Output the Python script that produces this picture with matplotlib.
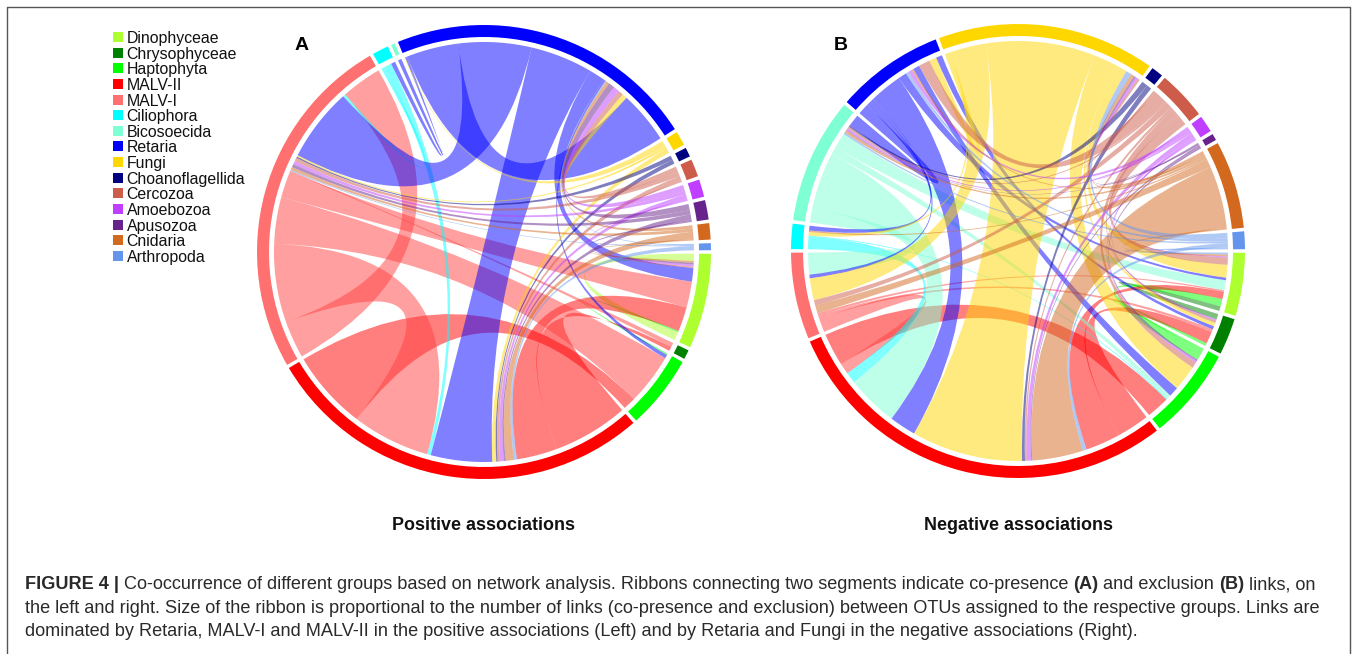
import numpy as np
import matplotlib
matplotlib.use('Agg')
import matplotlib.pyplot as plt
from matplotlib.patches import PathPatch, Wedge, Rectangle
from matplotlib.path import Path

W, H = 1357, 654
plt.rcParams['font.family'] = ['Liberation Sans', 'DejaVu Sans']

grupos = ['Dinophyceae', 'Chrysophyceae', 'Haptophyta', 'MALV-II', 'MALV-I', 'Ciliophora',
          'Bicosoecida', 'Retaria', 'Fungi', 'Choanoflagellida', 'Cercozoa', 'Amoebozoa',
          'Apusozoa', 'Cnidaria', 'Arthropoda']
colores = ['#ADFF2F', '#008000', '#00FF00', '#FF0000', '#FF7070', '#00FFFF', '#7FFFD4', '#0000FF',
           '#FFD700', '#000080', '#CD5C4A', '#BF3EFF', '#68228B', '#D2691E', '#6495ED']
colores_cinta = list(colores)
colores_cinta[4] = '#FF4040'  # las cintas de MALV-I se ven mas intensas que su arco
Di, Ch, Ha, M2, M1, Ci, Bi, Re, Fu, Co, Ce, Am, Ap, Cn, Ar = range(15)

# Panel A: (grupo vecino, valor), en sentido horario dentro de cada grupo
a_dino = [(Di, 2), (Cn, .5), (Ap, .5), (Am, .5), (Ce, .4), (Re, 3.8), (M1, 7.2), (M2, 6.8), (Ha, .4), (Di, 2.3)]
a_chry = [(M1, 1.2), (M2, 1.2)]
a_hapt = [(Di, .4), (Re, 1), (M1, 14.1), (M2, 3.5)]
a_malv2 = [(Ch, 21), (Di, 11.2), (Ar, .8), (Cn, 2.3), (Ap, .5), (Am, 1), (Ce, .7), (Co, .4), (Fu, 1.1),
           (Re, 17), (Ci, 1), (M1, 21.7), (Ha, 22)]
a_malv1 = [(M1, 10.4), (M2, 21.8), (Ha, 12.9), (Di, 7.3), (Ch, .3), (Ar, .3), (Cn, .8), (Ap, .9), (Am, .9),
           (Ce, 1), (Co, .4), (Fu, .4), (Re, 20.5), (Ci, .7), (M1, 11.3)]
a_cili = [(M1, .8), (M2, 2.2), (Re, 1.2)]
a_bico = [(Re, 1)]
a_reta = [(Fu, .2), (Bi, .3), (Ci, .3), (Re, 14.5), (M1, 20.2), (M2, 17.3), (Di, 4.5), (Ha, .5), (Ar, .3),
          (Cn, .9), (Ap, 1.7), (Am, 1.7), (Ce, 1.4), (Fu, 1.4), (Re, 14.5)]
a_fung = [(Re, 1.6), (Re, .2), (M1, .6), (M2, 1.3)]
a_choa = [(M1, 1.2), (M2, 1.2)]
a_cerc = [(Re, 1.5), (M1, 1.3), (M2, 1.4), (Di, .3)]
a_amoe = [(Re, 1.7), (M1, 1), (M2, 1.3), (Di, .5)]
a_apus = [(Re, 1.7), (M1, 1.2), (M2, 1.5), (Di, .6)]
a_cnid = [(Re, .9), (M1, .9), (M2, 2), (Di, .4)]
a_arth = [(Re, .3), (M1, .3), (M2, 1.2)]

# Panel B
b_dino = [(Ar, .5), (Cn, .5), (Am, .3), (Ce, 2), (Fu, 3.5), (Re, .7), (Bi, 2.8), (M1, .4), (M2, 2), (Ha, 2), (Ch, 1.3)]
b_chry = [(Di, 1.5), (Am, .4), (Ce, .6), (Fu, 1), (Re, .9), (M1, .8), (M2, 3.3), (Ha, .8)]
b_hapt = [(Ch, .6), (Di, 2.8), (Ap, .4), (Am, .5), (Ce, 1.6), (Fu, 7), (Re, 2.7), (Bi, 1.2), (Ci, .3), (M2, 6.3)]
b_malv2 = [(Ch, 9), (Di, 9.5), (Ar, 1), (Cn, 14), (Ap, .3), (Am, 1.2), (Ce, .5), (Co, .8), (Fu, 30.5),
           (Re, 7.3), (Bi, 14.2), (Ci, 3), (M1, 3), (Ha, 9)]
b_malv1 = [(M2, 3.8), (Ch, .8), (Di, .7), (Cn, 2.2), (Ce, 1.5), (Fu, 6), (Re, 1), (Bi, 6)]
b_cili = [(M2, 3.4), (Ha, .3), (Fu, 1), (Cn, .4), (Re, 1.3)]
b_bico = [(M1, 4), (M2, 15.5), (Ha, 2), (Di, 4.3), (Ar, .5), (Cn, .7), (Ap, .2), (Am, .5), (Ce, .5), (Co, .5), (Re, 3.3)]
b_reta = [(Bi, 3), (Ci, 1.3), (M1, 1), (M2, 9), (Di, 2.3), (Ar, .8), (Am, 1), (Cn, .5), (Ha, 1.8), (Ce, 3.1),
          (Fu, 2), (Ch, 1.7)]
b_fung = [(Re, 1.5), (Ci, 1), (M1, 8.9), (M2, 30), (Ha, 6.5), (Ch, 1), (Di, 2.1), (Ar, 1.5), (Cn, 1), (Ap, .5),
          (Am, .7), (Ce, .6)]
b_choa = [(Bi, 1.6), (M2, 1.4)]
b_cerc = [(Fu, .6), (Re, 3.7), (Bi, .5), (M1, 1.7), (M2, .7), (Ha, 1.7), (Ch, .6), (Di, 3)]
b_amoe = [(Fu, .5), (Re, 1), (Bi, .5), (M2, 1.3), (Ha, .4), (Ch, .3), (Di, .3)]
b_apus = [(Fu, .5), (Bi, .2), (M2, .5), (Ha, .5)]
b_cnid = [(Fu, 1), (Re, .5), (Bi, .7), (Ci, .4), (M1, 2.2), (M2, 17), (Di, .5)]
b_arth = [(Fu, 1.5), (Re, .8), (Bi, .5), (M2, 1.2), (Di, .5)]

enlaces_a = [a_dino, a_chry, a_hapt, a_malv2, a_malv1, a_cili, a_bico, a_reta, a_fung, a_choa, a_cerc, a_amoe,
             a_apus, a_cnid, a_arth]
enlaces_b = [b_dino, b_chry, b_hapt, b_malv2, b_malv1, b_cili, b_bico, b_reta, b_fung, b_choa, b_cerc, b_amoe,
             b_apus, b_cnid, b_arth]

titulos = ['Positive associations', 'Negative associations']
letras = ['A', 'B']

caption = [
    [('FIGURE 4 | ', 'bold'), ('Co-occurrence of different groups based on network analysis. Ribbons connecting two segments indicate co-presence ', 'normal'),
     ('(A)', 'bold'), (' and exclusion ', 'normal'), ('(B)', 'bold'), (' links, on', 'normal')],
    [('the left and right. Size of the ribbon is proportional to the number of links (co-presence and exclusion) between OTUs assigned to the respective groups. Links are', 'normal')],
    [('dominated by Retaria, MALV-I and MALV-II in the positive associations (Left) and by Retaria and Fungi in the negative associations (Right).', 'normal')],
]

R_FUERA, R_DENTRO, R_CINTA = 227, 215, 210
GAP = 0.9


def punto(angulo, r=R_CINTA):
    t = np.radians(angulo)
    return r * np.sin(t), r * np.cos(t)


def arco(a1, a2):
    return [punto(a) for a in np.linspace(a1, a2, max(int(abs(a2 - a1) * 2), 2))]


# Reparte los extremos de cada enlace alrededor del circulo, desde las 3 en punto
def calcular_extremos(enlaces):
    total = sum(v for lista in enlaces for _, v in lista)
    escala = (360 - GAP * len(enlaces)) / total
    arcos, extremos = [], {}
    pos = 90 + GAP / 2
    for i, lista in enumerate(enlaces):
        ini = pos
        for j, v in lista:
            extremos.setdefault((i, j), []).append((pos, pos + v * escala))
            pos += v * escala
        arcos.append((ini, pos))
        pos += GAP
    return arcos, extremos


def dibujar_cinta(ax, e1, e2, color):
    verts = arco(e1[0], e1[1])
    codes = [Path.MOVETO] + [Path.LINETO] * (len(verts) - 1)
    verts += [(0, 0), punto(e2[0])]
    codes += [Path.CURVE3, Path.CURVE3]
    resto = arco(e2[0], e2[1])[1:]
    verts += resto
    codes += [Path.LINETO] * len(resto)
    verts += [(0, 0), punto(e1[0])]
    codes += [Path.CURVE3, Path.CURVE3]
    ax.add_patch(PathPatch(Path(verts, codes), facecolor=color, edgecolor='none', alpha=0.5, lw=0))


def dibujar_panel(ax, enlaces):
    arcos, extremos = calcular_extremos(enlaces)
    for i in range(len(enlaces)):
        for j in range(i, len(enlaces)):
            if i == j:
                lista = extremos.get((i, i), [])
                pares = list(zip(lista[::2], lista[1::2]))
            else:
                pares = list(zip(extremos.get((i, j), []), extremos.get((j, i), [])))
                if len(extremos.get((i, j), [])) != len(extremos.get((j, i), [])):
                    print('sin pareja', grupos[i], grupos[j])
            for e1, e2 in pares:
                # la cinta toma el color del grupo posterior de la leyenda
                dibujar_cinta(ax, e1, e2, colores_cinta[max(i, j)])
    for (a1, a2), color in zip(arcos, colores):
        ax.add_patch(Wedge((0, 0), R_FUERA, 90 - a2, 90 - a1, width=R_FUERA - R_DENTRO, facecolor=color, edgecolor='none'))
    ax.set_xlim(-240, 240)
    ax.set_ylim(-240, 240)
    ax.axis('off')


fig = plt.figure(figsize=(W / 100, H / 100), dpi=100)
fondo = fig.add_axes([0, 0, 1, 1])
fondo.set_xlim(0, W)
fondo.set_ylim(H, 0)
fondo.axis('off')

# Marco de la figura
fondo.plot([7, 7, 1350, 1350], [H, 7, 7, H], color='#555555', lw=1)

centros = [(484, 252), (1018, 251)]
for centro, enlaces in zip(centros, [enlaces_a, enlaces_b]):
    ax = fig.add_axes([(centro[0] - 240) / W, 1 - (centro[1] + 240) / H, 480 / W, 480 / H])
    dibujar_panel(ax, enlaces)

# Leyenda
for k, (nombre, color) in enumerate(zip(grupos, colores)):
    y = 37 + k * 15.64
    fondo.add_patch(Rectangle((113, y - 5), 10, 10, facecolor=color, edgecolor='none'))
    fondo.text(126.5, y + 1.5, nombre, fontsize=11.4, va='center', ha='left', color='#111111')

fondo.text(302, 46, letras[0], fontsize=14, fontweight='bold', ha='center', va='center')
fondo.text(841, 46, letras[1], fontsize=14, fontweight='bold', ha='center', va='center')
fondo.text(483, 526, titulos[0], fontsize=12.9, ha='center', va='center', color='#111111', fontweight='bold')
fondo.text(1019, 526, titulos[1], fontsize=12.9, ha='center', va='center', color='#111111', fontweight='bold')

# Pie de figura con tramos en negrita
fig.canvas.draw()
rend = fig.canvas.get_renderer()
for linea, y in zip(caption, [589, 613, 636]):
    x = 25
    for trozo, peso in linea:
        t = fondo.text(x, y, trozo, fontsize=13.05, fontweight=peso, color='#2a2a2a', ha='left', va='baseline')
        caja = t.get_window_extent(rend)
        x += caja.width

fig.savefig('out.png', dpi=100)
